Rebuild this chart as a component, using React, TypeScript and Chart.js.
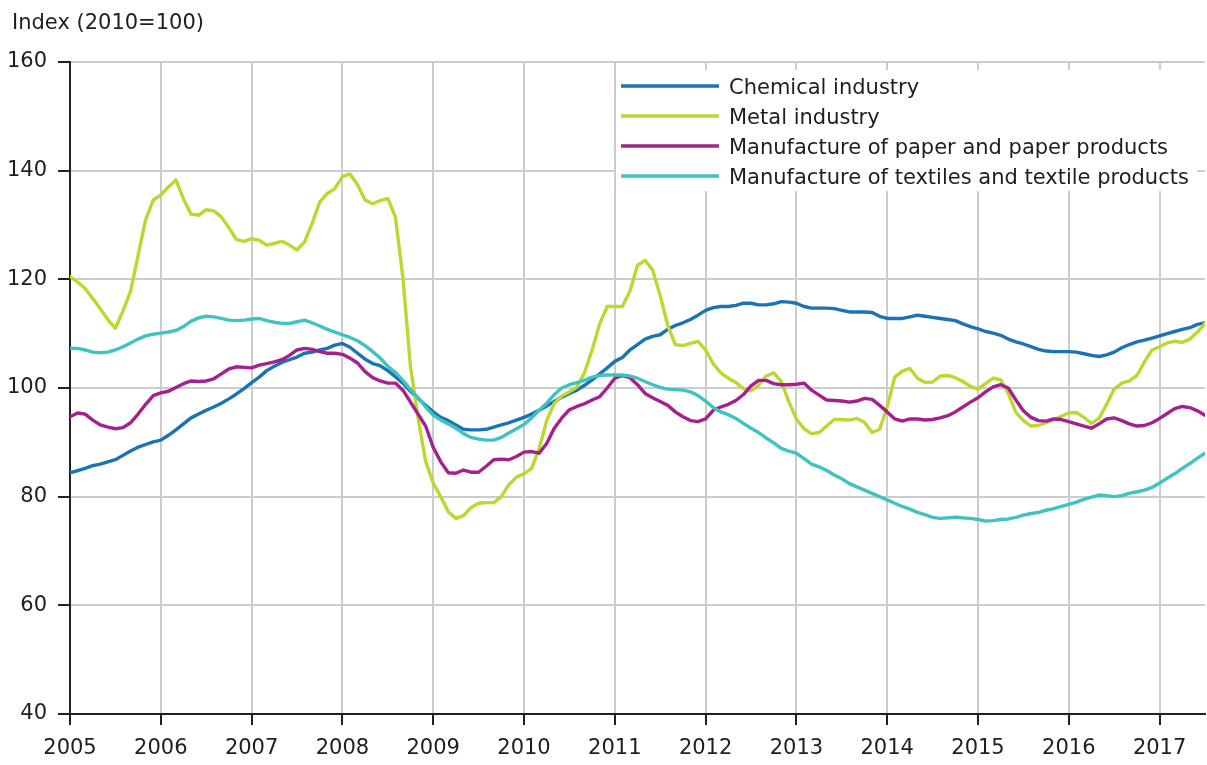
import React, { useEffect, useRef } from 'react';
import { Chart, registerables } from 'chart.js';

Chart.register(...registerables);

// ---- Data (monthly, 2005M01 .. 2017M07) ----
const firstYear = 2005;
const monthCount = 151;
const months: string[] = Array.from({ length: monthCount }, (_, i) =>
  `${firstYear + Math.floor(i / 12)}M${String((i % 12) + 1).padStart(2, '0')}`
);
const monthIndex: number[] = months.map((_, i) => i);

const yearLabels = ['2005', '2006', '2007', '2008', '2009', '2010', '2011', '2012', '2013', '2014', '2015', '2016', '2017'];

const seriesNames = [
  'Chemical industry',
  'Metal industry',
  'Manufacture of paper and paper products',
  'Manufacture of textiles and textile products',
];

const chemical = [
  84.4, 84.8, 85.2, 85.7, 86.0, 86.4, 86.8, 87.6, 88.4, 89.1, 89.6, 90.1, 90.4, 91.3, 92.3, 93.4, 94.5, 95.2, 95.9, 96.5, 97.2, 98.0, 98.9, 99.9, 101.0, 102.0,
  103.2, 104.0, 104.7, 105.2, 105.7, 106.4, 106.6, 107.0, 107.3, 107.9, 108.2, 107.5, 106.4, 105.3, 104.5, 104.1, 103.2, 102.1, 100.9, 99.4, 98.1, 96.8, 95.6, 94.6, 94.0,
  93.2, 92.4, 92.3, 92.3, 92.4, 92.8, 93.2, 93.6, 94.1, 94.6, 95.2, 95.9, 96.7, 97.5, 98.3, 99.0, 99.6, 100.5, 101.5, 102.6, 103.7, 104.9, 105.6, 107.0, 108.0,
  109.0, 109.5, 109.8, 110.8, 111.5, 112.0, 112.6, 113.4, 114.3, 114.8, 115.0, 115.0, 115.2, 115.6, 115.6, 115.3, 115.3, 115.5, 115.9, 115.8, 115.6, 115.0, 114.7, 114.7, 114.7,
  114.6, 114.3, 114.0, 114.0, 114.0, 113.9, 113.2, 112.8, 112.8, 112.8, 113.1, 113.4, 113.2, 113.0, 112.8, 112.6, 112.4, 111.8, 111.3, 110.9, 110.4, 110.1, 109.7, 109.0, 108.5,
  108.1, 107.6, 107.1, 106.8, 106.7, 106.7, 106.7, 106.6, 106.3, 106.0, 105.8, 106.1, 106.6, 107.4, 108.0, 108.5, 108.8, 109.2, 109.6, 110.0, 110.4, 110.8, 111.1, 111.7, 112.0,
];

const metal = [
  120.5, 119.5, 118.3, 116.5, 114.6, 112.6, 111.0, 114.2, 117.8, 124.4, 131.0, 134.6, 135.5, 137.0, 138.3, 134.8, 132.0, 131.8, 132.8, 132.6, 131.5, 129.5, 127.3, 127.0, 127.5, 127.2,
  126.3, 126.6, 127.0, 126.3, 125.4, 126.9, 130.3, 134.2, 135.8, 136.7, 138.9, 139.4, 137.4, 134.6, 133.9, 134.5, 134.9, 131.5, 120.3, 103.9, 94.5, 86.5, 82.5, 80.0, 77.2,
  76.0, 76.5, 78.0, 78.8, 78.9, 78.9, 80.0, 82.2, 83.6, 84.2, 85.2, 88.8, 94.0, 97.2, 98.5, 99.3, 100.2, 102.8, 107.0, 111.8, 115.0, 115.0, 115.0, 117.8, 122.6,
  123.5, 121.7, 117.0, 111.5, 108.0, 107.8, 108.2, 108.6, 107.0, 104.5, 102.8, 101.8, 101.0, 99.9, 99.5, 100.5, 102.2, 102.8, 101.2, 97.5, 94.3, 92.5, 91.6, 91.8, 93.0,
  94.2, 94.2, 94.1, 94.4, 93.7, 91.8, 92.4, 96.5, 102.0, 103.1, 103.6, 101.8, 101.0, 101.1, 102.2, 102.3, 101.9, 101.2, 100.3, 99.8, 100.8, 101.8, 101.5, 99.0, 95.5,
  94.0, 93.0, 93.1, 93.6, 94.1, 94.8, 95.4, 95.5, 94.6, 93.5, 94.4, 97.0, 99.8, 100.9, 101.3, 102.3, 104.8, 107.0, 107.6, 108.3, 108.6, 108.4, 109.0, 110.3, 111.9,
];

const paper = [
  94.7, 95.4, 95.2, 94.1, 93.2, 92.8, 92.5, 92.7, 93.6, 95.2, 97.0, 98.6, 99.1, 99.4, 100.1, 100.8, 101.3, 101.2, 101.3, 101.7, 102.6, 103.5, 103.9, 103.8, 103.7, 104.2,
  104.5, 104.8, 105.2, 106.0, 107.0, 107.3, 107.1, 106.7, 106.4, 106.4, 106.2, 105.5, 104.6, 103.0, 101.9, 101.3, 100.9, 100.9, 99.6, 97.4, 95.2, 93.0, 89.1, 86.4, 84.4,
  84.3, 84.9, 84.5, 84.5, 85.6, 86.8, 86.9, 86.8, 87.4, 88.2, 88.3, 88.0, 89.8, 92.6, 94.5, 96.0, 96.6, 97.1, 97.8, 98.4, 100.0, 101.8, 102.3, 101.9, 100.6,
  99.0, 98.2, 97.5, 96.8, 95.6, 94.7, 94.0, 93.8, 94.3, 95.9, 96.5, 97.0, 97.7, 98.8, 100.4, 101.4, 101.4, 100.8, 100.6, 100.6, 100.7, 100.9, 99.6, 98.7, 97.8,
  97.7, 97.6, 97.4, 97.6, 98.1, 97.9, 96.8, 95.6, 94.3, 93.9, 94.3, 94.3, 94.1, 94.2, 94.5, 94.9, 95.6, 96.5, 97.4, 98.2, 99.3, 100.2, 100.6, 100.0, 97.8,
  95.8, 94.6, 94.0, 93.9, 94.3, 94.2, 93.8, 93.4, 93.0, 92.6, 93.4, 94.3, 94.5, 94.0, 93.4, 93.0, 93.1, 93.6, 94.4, 95.3, 96.2, 96.6, 96.4, 95.8, 95.0,
];

const textiles = [
  107.3, 107.3, 107.0, 106.6, 106.5, 106.6, 107.0, 107.6, 108.3, 109.0, 109.6, 109.9, 110.1, 110.3, 110.6, 111.3, 112.3, 112.9, 113.2, 113.1, 112.8, 112.5, 112.4, 112.5, 112.7, 112.8,
  112.4, 112.1, 111.9, 111.9, 112.2, 112.5, 112.0, 111.4, 110.8, 110.3, 109.8, 109.3, 108.7, 107.8, 106.7, 105.5, 104.0, 102.9, 101.4, 99.7, 98.2, 96.5, 95.0, 94.1, 93.4,
  92.6, 91.6, 90.9, 90.6, 90.4, 90.4, 90.9, 91.7, 92.5, 93.3, 94.5, 95.9, 97.2, 98.8, 100.0, 100.6, 101.0, 101.4, 102.0, 102.3, 102.4, 102.4, 102.4, 102.2, 101.8,
  101.2, 100.6, 100.1, 99.8, 99.7, 99.6, 99.3, 98.6, 97.6, 96.4, 95.6, 95.1, 94.4, 93.5, 92.6, 91.8, 90.8, 89.9, 88.9, 88.4, 88.0, 87.0, 86.0, 85.5, 84.8,
  84.0, 83.3, 82.4, 81.8, 81.2, 80.6, 80.0, 79.4, 78.8, 78.2, 77.7, 77.1, 76.7, 76.2, 76.0, 76.1, 76.2, 76.1, 76.0, 75.8, 75.5, 75.6, 75.8, 75.9, 76.2,
  76.6, 76.9, 77.1, 77.5, 77.8, 78.2, 78.6, 79.0, 79.5, 79.9, 80.3, 80.2, 80.0, 80.2, 80.6, 80.9, 81.2, 81.7, 82.5, 83.4, 84.2, 85.2, 86.1, 87.1, 88.0,
];

const seriesColors = ['#1a74b4', '#bfd630', '#a4208d', '#3fc3c1'];
const seriesData = [chemical, metal, paper, textiles];

const FONT = "'DejaVu Sans', 'Verdana', sans-serif";
const TEXT_COLOR = '#1e1e1e';

const overlayPlugin = {
  id: 'overlayLegendTitle',
  afterDatasetsDraw(chart: any) {
    const { ctx, chartArea } = chart;
    ctx.save();
    // axis title
    ctx.font = `21px ${FONT}`;
    ctx.fillStyle = TEXT_COLOR;
    ctx.textAlign = 'left';
    ctx.textBaseline = 'alphabetic';
    ctx.fillText('Index (2010=100)', 12, 29);

    // legend box inside chart area (top right)
    const boxLeft = chartArea.left + 546;
    const boxTop = chartArea.top + 8;
    const boxRight = chartArea.right - 8;
    const boxBottom = chartArea.top + 129;
    ctx.fillStyle = '#ffffff';
    ctx.fillRect(boxLeft, boxTop, boxRight - boxLeft, boxBottom - boxTop);

    chart.data.datasets.forEach((ds: any, i: number) => {
      const y = chartArea.top + 24 + i * 30;
      ctx.strokeStyle = ds.borderColor;
      ctx.lineWidth = 3.4;
      ctx.lineCap = 'butt';
      ctx.beginPath();
      ctx.moveTo(boxLeft + 5, y);
      ctx.lineTo(boxLeft + 103, y);
      ctx.stroke();
      ctx.fillStyle = TEXT_COLOR;
      ctx.font = `21px ${FONT}`;
      ctx.fillText(ds.label, boxLeft + 113, y + 7.5);
    });
    ctx.restore();
  },
};

export default function App() {
  const canvasRef = useRef<HTMLCanvasElement | null>(null);

  useEffect(() => {
    document.body.style.margin = '0';
    const canvas = canvasRef.current;
    if (!canvas) return;

    const chart = new Chart(canvas, {
      type: 'line',
      data: {
        labels: monthIndex,
        datasets: seriesNames.map((name, i) => ({
          label: name,
          data: seriesData[i],
          borderColor: seriesColors[i],
          backgroundColor: seriesColors[i],
          borderWidth: 3.4,
          pointRadius: 0,
          pointHoverRadius: 0,
          tension: 0,
          fill: false,
          borderJoinStyle: 'round' as const,
          borderCapStyle: 'round' as const,
          order: seriesNames.length - i,
        })),
      },
      options: {
        animation: false,
        responsive: false,
        devicePixelRatio: 1,
        layout: { padding: { top: 62, right: 2, left: 0, bottom: 0 } },
        font: { family: FONT, size: 21 },
        plugins: {
          legend: { display: false },
          title: { display: false },
          tooltip: { enabled: false },
        },
        scales: {
          x: {
            type: 'linear',
            min: 0,
            max: monthCount - 1,
            afterFit: (scale: any) => {
              scale.height = 51;
            },
            ticks: {
              stepSize: 12,
              includeBounds: false,
              autoSkip: false,
              maxRotation: 0,
              padding: 11,
              color: TEXT_COLOR,
              font: { family: FONT, size: 21 },
              callback: (v: any) => yearLabels[Math.round(Number(v) / 12)] ?? '',
            },
            grid: {
              color: '#cccccc',
              lineWidth: 2,
              tickColor: '#222222',
              tickLength: 11,
              tickWidth: 2,
            },
            border: { display: true, color: '#222222', width: 2 },
          },
          y: {
            type: 'linear',
            min: 40,
            max: 160,
            afterFit: (scale: any) => {
              scale.width = 70;
            },
            ticks: {
              stepSize: 20,
              padding: 11,
              color: TEXT_COLOR,
              font: { family: FONT, size: 21 },
            },
            grid: {
              color: '#cccccc',
              lineWidth: 2,
              tickColor: '#222222',
              tickLength: 12,
              tickWidth: 2,
            },
            border: { display: true, color: '#222222', width: 2 },
          },
        },
      },
      plugins: [overlayPlugin],
    });

    return () => {
      chart.destroy();
    };
  }, []);

  return (
    <div style={{ position: 'fixed', left: 0, top: 0, width: 1207, height: 765, background: '#ffffff' }}>
      <canvas ref={canvasRef} width={1207} height={765} style={{ width: 1207, height: 765, display: 'block' }} />
    </div>
  );
}
